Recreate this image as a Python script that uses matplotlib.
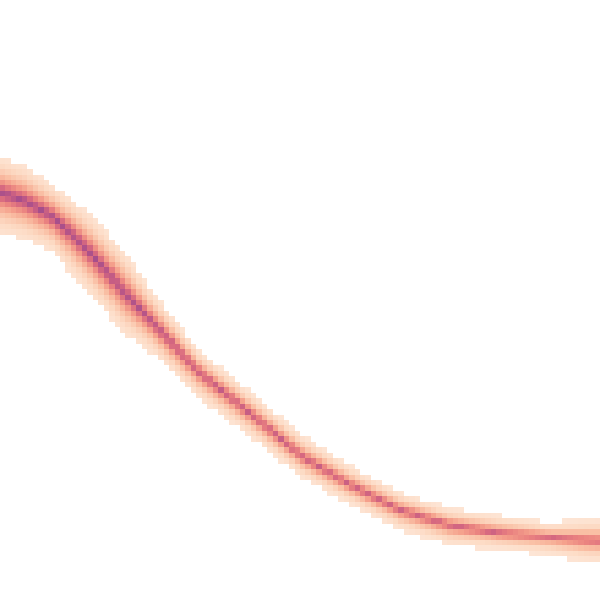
import numpy as np
import matplotlib
matplotlib.use("Agg")
import matplotlib.pyplot as plt
from matplotlib.colors import LinearSegmentedColormap

# puntos (coordenadas en pixeles, y hacia abajo)
x_muestras = [0, 25, 50, 70, 92, 125, 150, 200, 250, 300, 350, 400, 450, 500, 550, 585, 600]
y_centro = [192, 201, 215, 232, 255, 293, 320, 373, 413, 455, 485, 510, 525, 533, 537, 540, 541]
y_borde_sup = [157, 166, 183, 198, 216, 252, 288, 351, 391, 433, 465, 492, 508, 515, 522, 519, 518]
y_borde_inf = [233, 240, 250, 272, 297, 335, 352, 400, 437, 477, 505, 530, 546, 550, 556, 562, 563]
intensidad = [1.0, 1.0, 1.0, 1.0, 1.0, 0.97, 0.93, 0.86, 0.84, 0.82, 0.8, 0.8, 0.79, 0.78, 0.72, 0.76, 0.76]

colores = ["#feece0", "#fddcc6", "#fac0a5", "#f5a08c", "#ea8280", "#d76980", "#c05a86", "#a54e8c"]
cmap = LinearSegmentedColormap.from_list("banda", colores)

n = 110
lado = 600
centros = (np.arange(n) + 0.5) * lado / n

# perfil de cada columna segun los puntos leidos
c = np.interp(centros, x_muestras, y_centro)
sup = np.interp(centros, x_muestras, y_borde_sup)
inf = np.interp(centros, x_muestras, y_borde_inf)
pico = np.interp(centros, x_muestras, intensidad)

yy = centros[:, None]
ancho = np.where(yy < c[None, :], c - sup, inf - c)
d = (yy - c[None, :]) / ancho
valores = pico[None, :] * np.exp(-2.5 * np.abs(d))
valores = np.ma.masked_where(np.abs(d) > 1.0, valores)

fig = plt.figure(figsize=(6, 6), dpi=100)
ax = fig.add_axes([0, 0, 1, 1])
ax.imshow(valores, cmap=cmap, vmin=0, vmax=1, interpolation="nearest",
          extent=[0, lado, lado, 0], aspect="auto")
ax.set_xlim(0, lado)
ax.set_ylim(lado, 0)
ax.axis("off")
fig.savefig("out.png", dpi=100, facecolor="white")
